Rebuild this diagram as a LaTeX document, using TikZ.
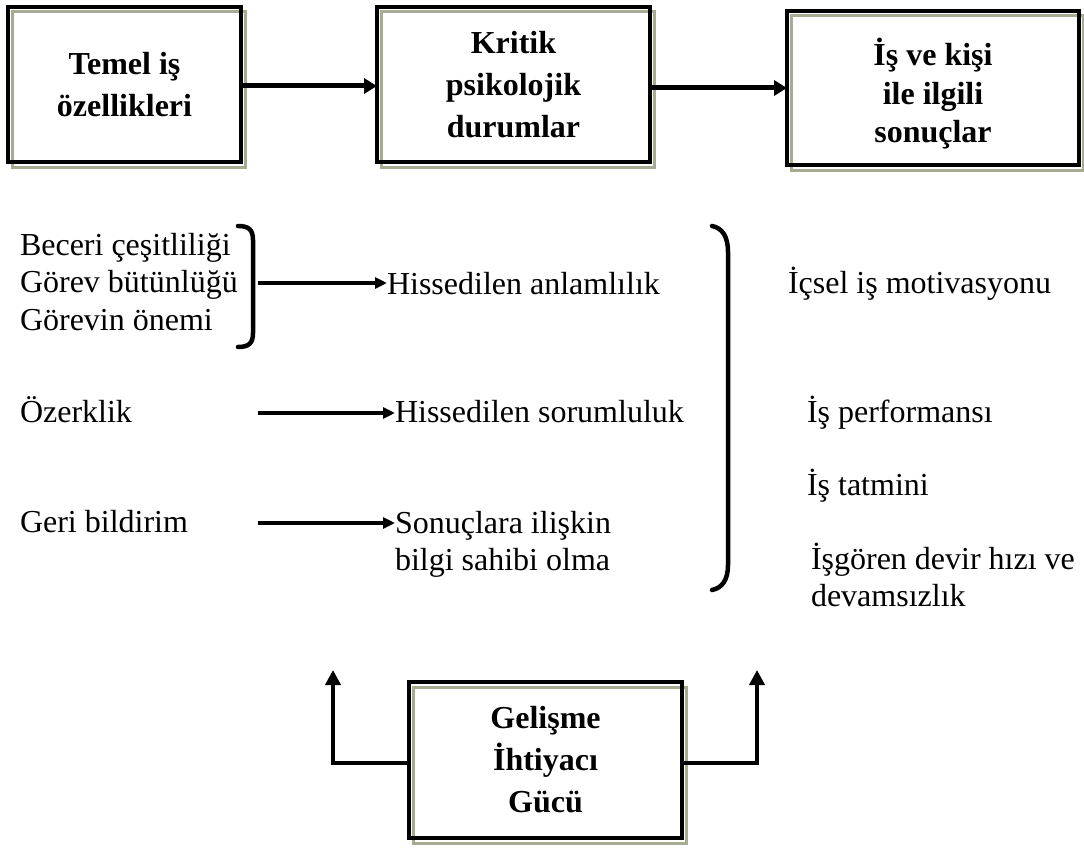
\documentclass[tikz,border=0pt]{standalone}
\usepackage{fontspec}
\setmainfont{Liberation Serif}
\usetikzlibrary{arrows.meta,backgrounds}
\definecolor{shadowc}{RGB}{165,172,145}
\begin{document}
\begin{tikzpicture}[x=1pt,y=-1pt,
  boxnode/.style={draw, line width=4pt, align=center, inner sep=0pt, outer sep=0pt,
    font=\bfseries\fontsize{32}{42}\selectfont},
  txt/.style={inner sep=0pt, outer sep=0pt, anchor=base west, font=\fontsize{32}{37.5}\selectfont},
  mtxt/.style={inner sep=0pt, outer sep=0pt, anchor=north west, align=left, font=\fontsize{32}{37.5}\selectfont},
  bigarrow/.style={line width=5pt, -{Triangle[length=13pt,width=15pt]}},
  midarrow/.style={line width=4pt, -{Triangle[length=12pt,width=11pt]}},
  uparrow/.style={line width=4pt, -{Triangle[length=15pt,width=15pt]}},
  brack/.style={line width=4.5pt, line cap=round},
  shadowbox/.style={draw=shadowc, line width=3pt}
]
\useasboundingbox (0,0) rectangle (1084,848);

% boxes
\node[boxnode, minimum width=233pt, minimum height=155pt] (b1) at (124.5,84.5) {Temel iş\\özellikleri};
\node[boxnode, minimum width=273pt, minimum height=155pt] (b2) at (513.5,84.5) {Kritik\\psikolojik\\durumlar};
\node[boxnode, minimum width=292pt, minimum height=154pt, font=\bfseries\fontsize{32}{38.5}\selectfont] (b3) at (933,88) {\rule{0pt}{39pt}İş ve kişi\\ile ilgili\\sonuçlar};
\node[boxnode, minimum width=273pt, minimum height=156pt] (b4) at (545.5,760) {Gelişme\\İhtiyacı\\Gücü};

\begin{scope}[on background layer]
  \foreach \b in {b1,b2,b3,b4}
    \draw[shadowbox] ([shift={(4,5)}]\b.north west) rectangle ([shift={(4,5)}]\b.south east);
\end{scope}

% top arrows
\draw[bigarrow] (b1.east |- 0,86) -- (b2.west |- 0,86);
\draw[bigarrow] (b2.east |- 0,88) -- (b3.west |- 0,88);

% left column
\node[txt] (t1) at (20,255) {Beceri çeşitliliği};
\node[txt] (t2) at (20,292.5) {Görev bütünlüğü};
\node[txt] (t3) at (20,330) {Görevin önemi};
\node[txt] (t4) at (20,422) {Özerklik};
\node[txt] (t5) at (20,532) {Geri bildirim};

% left bracket
\draw[brack] (238,226) .. controls (249,226) and (253,230) .. (253,240) -- (253,333) .. controls (253,343) and (249,347) .. (238,347);

% middle column
\node[txt] (m1) at (387,294) {Hissedilen anlamlılık};
\node[txt] (m2) at (395,422) {Hissedilen sorumluluk};
\node[mtxt] (m3) at (395,511) {Sonuçlara ilişkin\\bilgi sahibi olma};

\coordinate (s1) at (258,283);
\coordinate (s2) at (258,413);
\coordinate (s3) at (258,523);
\draw[midarrow] (s1) -- (s1 -| m1.west);
\draw[midarrow] (s2) -- (s2 -| m2.west);
\draw[midarrow] (s3) -- (s3 -| m3.west);

% right bracket
\draw[brack] (712,226) .. controls (722,228) and (728,236) .. (728,252) -- (728,565) .. controls (728,580) and (722,588) .. (712,590);

% right column
\node[txt] (r1) at (788,293) {İçsel iş motivasyonu};
\node[txt] (r2) at (807,422) {İş performansı};
\node[txt] (r3) at (807,495) {İş tatmini};
\node[mtxt] (r4) at (811,543) {İşgören devir hızı ve\\devamsızlık};

% bottom arrows
\coordinate (u1) at (333,670);
\coordinate (u2) at (757,670);
\draw[uparrow] (b4.west |- 0,763) -| (u1);
\draw[uparrow] (b4.east |- 0,763) -| (u2);
\end{tikzpicture}
\end{document}
